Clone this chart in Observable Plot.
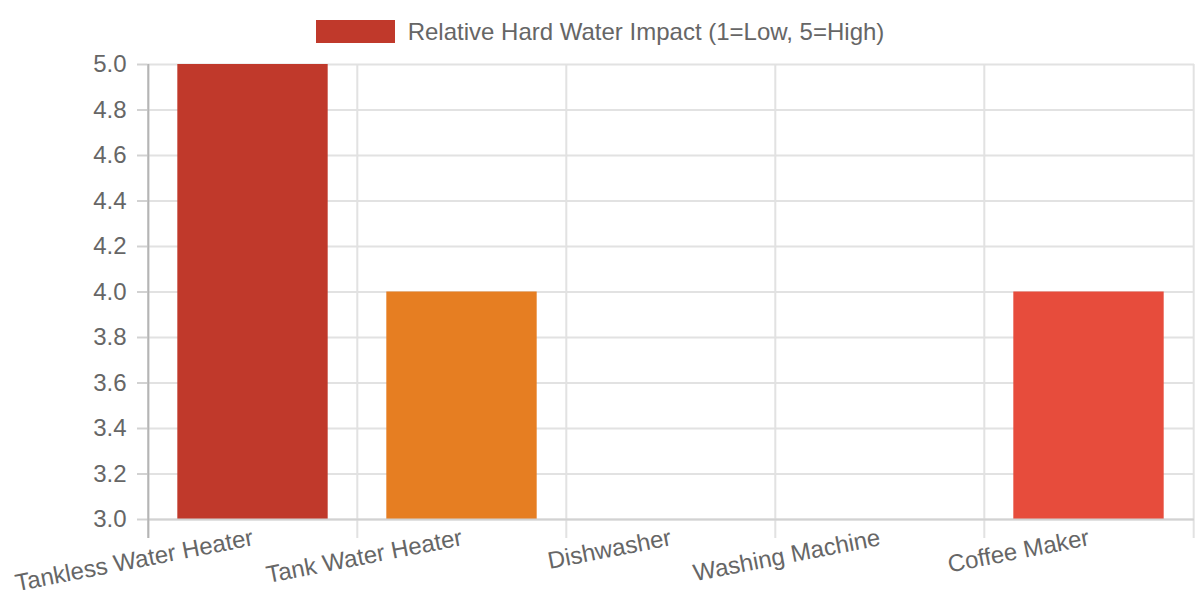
<!DOCTYPE html>
<html>
<head>
<meta charset="utf-8">
<script src="https://cdn.jsdelivr.net/npm/d3@7"></script>
<script src="https://cdn.jsdelivr.net/npm/@observablehq/plot@0.6"></script>
<style>
  html, body { margin: 0; padding: 0; background: #fff; }
  body { width: 1200px; height: 600px; overflow: hidden; position: relative; font-family: "Liberation Sans", Arial, sans-serif; }
  #legend { position: absolute; left: 0; top: 20px; width: 1200px; height: 23px; display: flex; align-items: center; justify-content: center; }
  #legend .sw { width: 79px; height: 23px; margin-right: 13px; }
  #legend .lb { font-size: 24px; color: #666; line-height: 24px; }
  #chart svg { display: block; }
</style>
</head>
<body>
<div id="chart"></div>
<div id="legend"></div>
<script>
const categories = ["Tankless Water Heater", "Tank Water Heater", "Dishwasher", "Washing Machine", "Coffee Maker"];
const impact = [5, 4, 3, 3, 4];
const colors = ["#c0392b", "#e67e22", "#3498db", "#2ecc71", "#e74c3c"];
const seriesLabel = "Relative Hard Water Impact (1=Low, 5=High)";
const yTicks = [3.0, 3.2, 3.4, 3.6, 3.8, 4.0, 4.2, 4.4, 4.6, 4.8, 5.0];

const data = categories.map((c, i) => ({category: c, value: impact[i], color: colors[i]}));

// legend
const lg = document.getElementById("legend");
lg.innerHTML = `<div class="sw" style="background:${colors[0]}"></div><div class="lb">${seriesLabel}</div>`;

const W = 1200, H = 600;
const mL = 147, mR = 6, mT = 64, mB = 81;
const step = (W - mL - mR) / categories.length;
const grid = "#e2e2e2";

const chart = Plot.plot({
  width: W,
  height: H,
  marginLeft: mL,
  marginRight: mR,
  marginTop: mT,
  marginBottom: mB,
  style: {fontFamily: "Liberation Sans, Arial, sans-serif", fontSize: "24px", color: "#666", background: "#fff"},
  x: {type: "band", domain: categories, padding: 0, label: null},
  y: {domain: [3, 5], label: null},
  marks: [
    Plot.gridY(yTicks, {stroke: grid, strokeOpacity: 1, strokeWidth: 2}),
    Plot.ruleX(categories, {x: d => d, dx: -step / 2, stroke: grid, strokeWidth: 2, insetBottom: -19}),
    Plot.ruleX(categories.slice(-1), {x: d => d, dx: step / 2, stroke: grid, strokeWidth: 2, insetBottom: -19}),
    Plot.barY(data, {x: "category", y: "value", fill: "color", insetLeft: step * 0.14, insetRight: step * 0.14, clip: true}),
    Plot.ruleY([3], {stroke: "#d2d2d2", strokeWidth: 2}),
    Plot.ruleX(categories.slice(0, 1), {x: d => d, dx: -step / 2, stroke: "#b5b5b5", strokeWidth: 2, insetBottom: -19}),
    Plot.axisY({ticks: yTicks, tickFormat: d3.format(".1f"), tickSize: 10, tickPadding: 11, stroke: "#d2d2d2", strokeWidth: 2, fill: "#666", fontSize: 24}),
    Plot.axisX({tickSize: 0, tickPadding: 18, tickRotate: -11, textAnchor: "end", fill: "#666", fontSize: 24})
  ]
});
document.getElementById("chart").appendChild(chart);
</script>
</body>
</html>
